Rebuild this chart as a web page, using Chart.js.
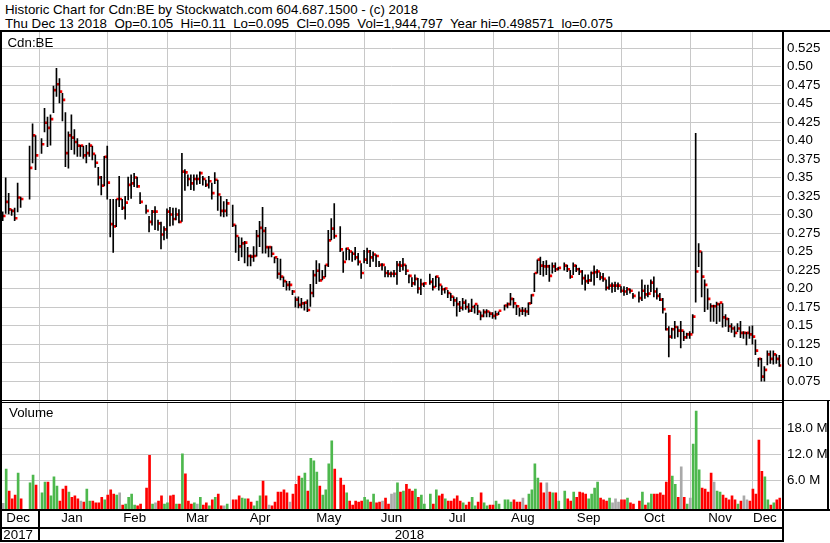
<!DOCTYPE html>
<html>
<head>
<meta charset="utf-8">
<script src="https://cdn.jsdelivr.net/npm/chart.js@4.4.0/dist/chart.umd.min.js"></script>
<style>
  body { margin: 0; background: #fff; font-family: "Liberation Sans", Arial, sans-serif; }
  #wrap { position: relative; width: 830px; height: 543px; overflow: hidden; background: #fff; }
  canvas { position: absolute; left: 0; }
  .txt { position: absolute; font-size: 13.3px; line-height: 15px; color: #000; white-space: pre; }
  .ln { position: absolute; background: #000; }
</style>
</head>
<body>
<div id="wrap">
  <div class="txt" style="left:5px;top:2px">Historic Chart for Cdn:BE by Stockwatch.com 604.687.1500 - (c) 2018</div>
  <div class="txt" style="left:5px;top:16px">Thu Dec 13 2018  Op=0.105  Hi=0.11  Lo=0.095  Cl=0.095  Vol=1,944,797  Year hi=0.498571  lo=0.075</div>
  <canvas id="price" width="830" height="368" style="top:32px"></canvas>
  <canvas id="volume" width="830" height="140" style="top:403px"></canvas>
  <div class="txt" style="left:7.5px;top:35px">Cdn:BE</div>
  <div class="txt" style="left:9px;top:405px">Volume</div>
  <!-- frame lines -->
  <div class="ln" style="left:0;top:30px;width:830px;height:2px"></div>
  <div class="ln" style="left:0;top:30px;width:2px;height:512px"></div>
  <div class="ln" style="left:782px;top:30px;width:2px;height:512px"></div>
  <div class="ln" style="left:0;top:400px;width:830px;height:1px"></div>
  <div class="ln" style="left:0;top:402px;width:784px;height:1px"></div>
  <div class="ln" style="left:0;top:509px;width:830px;height:2px"></div>
  <div class="ln" style="left:827px;top:400px;width:2px;height:111px"></div>
  <div class="ln" style="left:0;top:527px;width:784px;height:2px"></div>
  <div class="ln" style="left:0;top:540px;width:784px;height:2px"></div>
  <div class="ln" style="left:38px;top:509px;width:2px;height:33px"></div>
</div>
<script>
// one slot per weekday, Dec 14 2017 .. Dec 13 2018 (null = no trading)
const highs = [
  .304,.350,.329,.307,.309,.343,.324,null,null,.393,.423,.407,null,
  .403,.444,.432,.435,.474,.498,.484,.464,.438,.412,.435,.415,.403,.394,.393,.394,.397,.393,.381,.364,.352,.379,
  .393,.321,.321,.321,.352,.321,.325,.351,.354,.356,.351,.330,null,.313,.298,.306,.311,.293,.290,.284,
  .308,.310,.309,.309,.307,.383,.361,.354,.354,.354,.354,.358,.352,.347,.352,.343,.357,.347,.325,.318,.321,
  null,.313,.286,.270,.269,.264,.256,.246,.257,.279,.291,.310,.283,.257,.257,.243,.241,.240,.216,.210,.210,.198,
  .189,.189,.187,.182,.185,.206,.225,.238,.234,.225,.232,.279,.295,.315,null,.284,.250,.255,.253,.250,.256,.248,.234,
  .252,.255,.252,.250,.246,.237,.234,.230,.225,.223,.225,.237,.237,.241,.232,.219,.215,.219,.214,.213,.208,
  null,.220,.214,.217,.215,.204,.201,.198,.194,.189,.188,.183,.187,.185,.180,.186,.178,.178,.169,.172,.172,.169,
  .168,.170,.169,null,.178,.181,.194,.187,.178,.174,.175,.174,.181,.192,.221,.239,.243,.237,.238,.232,.235,.235,.229,
  null,.235,.232,.225,.235,.232,.228,.225,.219,.219,.223,.231,.226,.222,.221,.212,.216,.208,.209,.208,
  .203,.203,.202,.200,.194,null,.196,.212,.205,.205,.212,.216,.201,.194,.187,.167,.149,.147,.156,.149,.156,.143,.140,
  .142,.165,.410,.261,.250,.212,.200,.180,.178,.182,.180,.180,.165,.160,.153,.149,.153,.156,.142,.141,.149,.150,
  .131,.106,.106,.095,.116,.116,.116,.111,.110
];
const lows = [
  .292,.302,.301,.299,.292,.304,.310,null,null,.321,.370,.361,null,
  .383,.412,.392,.394,.438,.460,.451,.427,.365,.363,.388,.382,.379,.379,.376,.370,.379,.374,.364,.340,.327,.339,
  .321,.270,.249,.284,.311,.307,.294,.320,.322,.338,.337,.315,null,.302,.277,.286,.280,.279,.254,.266,
  .268,.285,.286,.293,.289,.291,.333,.339,.334,.333,.341,.342,.340,.338,.336,.321,.342,.306,.298,.297,.298,
  null,.284,.249,.238,.243,.235,.231,.231,.237,.244,.257,.248,.248,.243,.243,.235,.214,.212,.203,.198,.198,.192,
  .175,.174,.174,.171,.169,.176,.189,.207,.210,.212,.216,.230,.266,.268,null,.250,.222,.239,.239,.237,.239,.232,.214,
  .235,.234,.230,.237,.230,.230,.225,.216,.216,.216,.216,.206,.223,.225,.219,.208,.203,.205,.194,.192,.203,
  null,.206,.198,.203,.198,.192,.194,.188,.184,.177,.163,.169,.171,.172,.168,.169,.167,.165,.158,.162,.162,.162,
  .160,.159,.165,null,.171,.174,.178,.174,.165,.163,.165,.163,.165,.180,.196,.221,.219,.217,.219,.210,.221,.223,.225,
  null,.225,.223,.214,.219,.223,.219,.206,.198,.207,.210,.205,.215,.212,.210,.198,.199,.195,.196,.199,
  .195,.191,.192,.194,.187,null,.182,.184,.187,.189,.196,.189,.186,.184,.167,.144,.108,.133,.133,.135,.120,.130,.133,
  .133,.140,.182,.230,.189,.169,.172,.156,.156,.153,.156,.148,.149,.142,.141,.135,.142,.134,.133,.124,.133,.125,
  .111,.095,.075,.075,.097,.099,.098,.099,.095
];
const closes = [
  .297,.316,.306,.304,.294,.322,.320,null,null,.362,.406,.379,null,
  .394,.423,.416,.428,.467,.475,.465,.454,.382,.406,.403,.397,.392,.392,.379,.382,.392,.381,.369,.349,.338,.377,
  .342,.286,.283,.320,.320,.308,.315,.339,.341,.349,.337,.316,null,.304,.289,.303,.303,.287,.272,.279,
  .303,.299,.293,.299,.289,.357,.356,.347,.341,.347,.347,.355,.347,.339,.344,.328,.346,.326,.304,.304,.314,
  null,.285,.270,.256,.260,.261,.243,.242,.243,.270,.281,.277,.255,.255,.246,.241,.219,.215,.209,.204,.204,.195,
  .184,.177,.179,.180,.170,.193,.217,.223,.210,.214,.231,.264,.280,.270,null,.252,.235,.253,.249,.246,.241,.235,.220,
  .238,.249,.241,.245,.243,.231,.231,.220,.219,.219,.219,.231,.230,.231,.223,.216,.206,.212,.199,.205,.206,
  null,.208,.201,.215,.204,.198,.199,.193,.188,.183,.178,.173,.180,.174,.169,.174,.178,.168,.162,.167,.168,.165,
  .162,.164,.169,null,.176,.178,.185,.179,.175,.169,.169,.168,.179,.190,.220,.238,.230,.229,.229,.216,.229,.225,.227,
  null,.230,.225,.215,.230,.225,.222,.213,.209,.210,.220,.221,.222,.214,.212,.200,.203,.203,.203,.203,
  .196,.195,.198,.196,.189,null,.186,.196,.191,.192,.207,.195,.189,.184,.171,.144,.134,.144,.147,.142,.142,.133,.137,
  .137,.161,.222,.249,.215,.204,.185,.175,.175,.178,.180,.160,.158,.148,.145,.139,.145,.139,.139,.139,.137,.134,
  .115,.104,.080,.089,.110,.104,.110,.104,.095
];
// volume in millions of shares
const volumes = [
  0.7,8.6,3.5,1.7,2.6,7.7,1.7,null,null,5.4,7.2,4.9,null,
  3.1,5.6,5.6,2.4,6.8,4.7,1.2,4.0,4.7,3.3,2.1,2.4,1.7,1.2,1.0,4.0,1.2,1.2,0.8,0.8,2.1,1.5,
  2.6,3.8,2.8,2.6,3.1,0.3,0.5,2.1,2.8,0.3,0.1,0.5,null,4.2,11.8,0.5,0.8,1.2,2.4,0.5,
  0.8,2.4,2.6,0.5,0.5,12.1,7.5,1.2,0.5,0.8,0.5,2.1,0.3,0.8,0.1,1.5,2.1,2.8,0.1,0.1,0.5,
  null,1.5,1.5,2.4,1.9,1.7,1.7,1.0,0.1,1.2,2.4,5.8,2.4,0.3,0.1,1.0,3.3,3.3,3.8,3.1,1.0,2.8,
  5.1,7.0,6.5,7.7,3.5,11.1,10.5,7.9,4.7,2.6,3.8,9.8,15.1,8.6,null,6.5,4.9,3.1,1.2,0.3,1.2,1.0,1.2,
  2.1,1.5,1.0,2.8,0.8,1.0,1.2,1.9,0.5,2.8,3.1,5.4,3.3,3.5,5.1,4.0,3.5,4.0,2.1,2.6,0.5,
  null,2.8,0.5,3.8,2.4,2.8,1.7,1.2,1.2,1.7,2.4,1.2,0.8,0.3,1.0,2.1,0.1,1.0,3.1,0.8,0.1,0.3,
  0.3,1.2,0.5,null,1.5,1.5,1.0,1.5,1.0,1.0,1.9,0.3,2.8,3.8,9.8,6.5,5.4,3.1,5.4,3.3,3.1,3.1,1.2,
  null,3.5,1.7,1.2,3.3,2.1,3.3,3.1,2.8,1.7,2.8,4.2,5.6,1.9,1.5,1.2,1.9,0.8,1.7,1.0,
  1.5,1.5,1.9,0.8,0.5,null,1.2,3.3,0.3,0.8,2.8,2.8,2.8,3.1,2.6,5.6,16.4,7.0,5.1,2.1,9.1,2.1,0.5,
  1.9,14.4,22.0,8.4,4.2,4.0,3.3,7.7,5.6,3.5,3.3,2.6,1.9,1.5,2.4,1.5,0.5,1.2,2.4,1.5,1.2,4.0,
  2.8,15.3,8.1,6.8,1.5,0.3,0.8,1.5,1.9
];

// month / year bands (slot where each one starts)
const monthNames = ['Dec','Jan','Feb','Mar','Apr','May','Jun','Jul','Aug','Sep','Oct','Nov','Dec'];
const monthStarts = [0, 12, 35, 55, 76, 98, 121, 141, 164, 186, 207, 230, 251];
const yearNames = ['2017', '2018'];
const yearStarts = [0, 12];

const priceTicks = [0.075,0.10,0.125,0.15,0.175,0.20,0.225,0.25,0.275,0.30,0.325,0.35,0.375,0.40,0.425,0.45,0.475,0.50,0.525];
const priceTickLabels = ['0.075','0.10','0.125','0.15','0.175','0.20','0.225','0.25','0.275','0.30','0.325','0.35','0.375','0.40','0.425','0.45','0.475','0.50','0.525'];
const volTicks = [6, 12, 18];
const volTickLabels = ['6.0 M', '12.0 M', '18.0 M'];

const FONT = { family: '"Liberation Sans", Arial, sans-serif', size: 13.3 };
const GRID = '#c8c8c8';
const NONE = 'rgba(0,0,0,0)';
const UP = '#4db84d', DOWN = '#ff0000', FLAT = '#a9a9a9';
const PLOT_LEFT = 1.7, AXIS_W = 48.7;
const VOL_MIN = -0.62, VOL_MAX = 23.86;

const N = closes.length;
const slots = closes.map((_, i) => String(i));

// label sits in the middle slot of its band
const bandLabels = (names, starts) => {
  const out = {};
  names.forEach((n, k) => {
    const end = k + 1 < starts.length ? starts[k + 1] : N;
    out[Math.floor((starts[k] + end - 1) / 2)] = n;
  });
  return out;
};
const monthLabelAt = bandLabels(monthNames, monthStarts);
const yearLabelAt = bandLabels(yearNames, yearStarts);
const gridSlots = monthStarts.slice(1);

// volume colour follows the close versus the previous close
const volColors = closes.map((c, i) => {
  let j = i - 1;
  while (j >= 0 && closes[j] == null) j--;
  if (c == null || j < 0 || closes[j] === c) return FLAT;
  return c > closes[j] ? UP : DOWN;
});

const monthGrid = {
  offset: false, drawTicks: false, lineWidth: 1,
  color: ctx => gridSlots.includes(ctx.index) ? GRID : NONE
};
const noPad = s => { s.paddingLeft = 0; s.paddingRight = 0; s.paddingTop = 0; s.paddingBottom = 0; };

new Chart(document.getElementById('price'), {
  type: 'bar',
  data: {
    labels: slots,
    datasets: [
      { data: highs.map((h, i) => h == null ? null : [lows[i], h]), backgroundColor: '#000', barThickness: 1, minBarLength: 1 },
      { data: closes.map(c => c == null ? null : [c, c]), backgroundColor: '#ff0000', barThickness: 2, minBarLength: 2 }
    ]
  },
  options: {
    responsive: false, animation: false, devicePixelRatio: 1, events: [],
    layout: { padding: { left: PLOT_LEFT, right: 0, top: 0, bottom: 0 } },
    plugins: { legend: { display: false }, tooltip: { enabled: false } },
    scales: {
      x: {
        offset: true,
        grid: monthGrid,
        border: { display: false },
        ticks: { display: false },
        afterFit: s => { s.height = 0; noPad(s); }
      },
      y: {
        position: 'right', min: 0.0497, max: 0.547,
        afterBuildTicks: s => { s.ticks = priceTicks.map(v => ({ value: v })); },
        ticks: { autoSkip: false, padding: 5.7, color: '#000', font: FONT, callback: (v, i) => priceTickLabels[i] },
        grid: { color: GRID, drawTicks: false, lineWidth: 1 },
        border: { display: false },
        afterFit: s => { s.width = AXIS_W; noPad(s); }
      }
    }
  }
});

new Chart(document.getElementById('volume'), {
  type: 'bar',
  data: {
    labels: slots,
    datasets: [
      { data: volumes, backgroundColor: volColors, barThickness: 2, base: VOL_MIN, xAxisID: 'x', yAxisID: 'y' }
    ]
  },
  options: {
    responsive: false, animation: false, devicePixelRatio: 1, events: [],
    layout: { padding: { left: PLOT_LEFT, right: 0, top: 0, bottom: 0 } },
    plugins: { legend: { display: false }, tooltip: { enabled: false } },
    scales: {
      x: {
        position: 'bottom', weight: 0, offset: true,
        grid: monthGrid,
        border: { display: false },
        ticks: { autoSkip: false, maxRotation: 0, minRotation: 0, padding: 1, color: '#000', font: FONT,
                 callback: (v, i) => monthLabelAt[i] || '' },
        afterFit: s => { s.height = 18; noPad(s); }
      },
      x2: {
        type: 'category', position: 'bottom', weight: 1, offset: true,
        grid: { display: false, drawTicks: false },
        border: { display: false },
        ticks: { autoSkip: false, maxRotation: 0, minRotation: 0, padding: 0, color: '#000', font: FONT,
                 callback: (v, i) => yearLabelAt[i] || '' },
        afterFit: s => { s.height = 16; noPad(s); }
      },
      y: {
        position: 'right', min: VOL_MIN, max: VOL_MAX,
        afterBuildTicks: s => { s.ticks = volTicks.map(v => ({ value: v })); },
        ticks: { autoSkip: false, padding: 5.7, color: '#000', font: FONT, callback: (v, i) => volTickLabels[i] },
        grid: { color: GRID, drawTicks: false, lineWidth: 1 },
        border: { display: false },
        afterFit: s => { s.width = AXIS_W; noPad(s); }
      }
    }
  }
});
</script>
</body>
</html>
